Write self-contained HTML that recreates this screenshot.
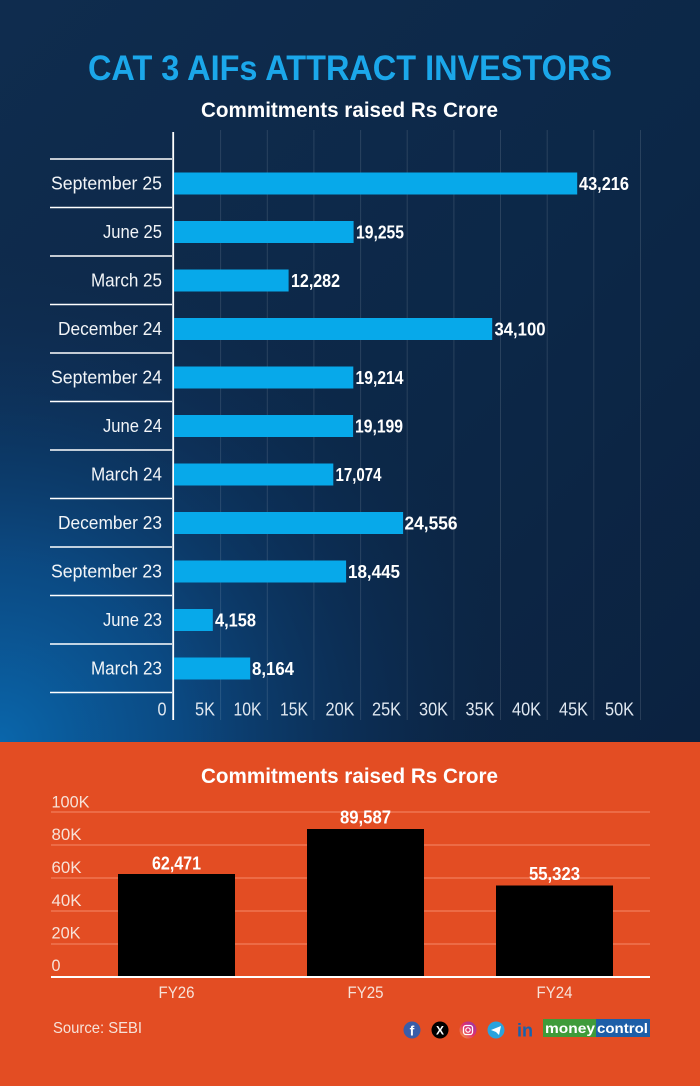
<!DOCTYPE html>
<html>
<head>
<meta charset="utf-8">
<style>
html,body{margin:0;padding:0;background:#0d2846;}
svg{display:block;}
text{font-family:"Liberation Sans","DejaVu Sans",sans-serif;}
</style>
</head>
<body>
<svg width="700" height="1086" viewBox="0 0 700 1086" xmlns="http://www.w3.org/2000/svg">
<defs>
  <radialGradient id="glow" cx="0" cy="742" r="520" gradientUnits="userSpaceOnUse">
    <stop offset="0" stop-color="#0a66ab" stop-opacity="1"/>
    <stop offset="0.35" stop-color="#0b4f8c" stop-opacity="0.85"/>
    <stop offset="0.75" stop-color="#0d3563" stop-opacity="0.35"/>
    <stop offset="1" stop-color="#0d2846" stop-opacity="0"/>
  </radialGradient>
  <linearGradient id="base" x1="0" y1="0" x2="1" y2="1">
    <stop offset="0" stop-color="#0f2c4e"/>
    <stop offset="0.6" stop-color="#0c2747"/>
    <stop offset="1" stop-color="#0b2240"/>
  </linearGradient>
  <linearGradient id="ig" x1="0" y1="1" x2="1" y2="0">
    <stop offset="0" stop-color="#f7a23a"/>
    <stop offset="0.5" stop-color="#e1306c"/>
    <stop offset="1" stop-color="#8a3ab9"/>
  </linearGradient>
</defs>

<!-- top section background -->
<rect x="0" y="0" width="700" height="742" fill="url(#base)"/>
<rect x="0" y="0" width="700" height="742" fill="url(#glow)"/>

<!-- title -->
<text x="350" y="80" text-anchor="middle" font-size="35" font-weight="bold" fill="#1ba7ea" textLength="524" lengthAdjust="spacingAndGlyphs">CAT 3 AIFs ATTRACT INVESTORS</text>
<text x="349.5" y="117" text-anchor="middle" font-size="21" font-weight="bold" fill="#ffffff" textLength="297" lengthAdjust="spacingAndGlyphs">Commitments raised Rs Crore</text>

<!-- gridlines -->
<g stroke="#ffffff" stroke-opacity="0.12" stroke-width="1">
  <line x1="220.6" y1="130" x2="220.6" y2="720"/>
  <line x1="267.3" y1="130" x2="267.3" y2="720"/>
  <line x1="313.9" y1="130" x2="313.9" y2="720"/>
  <line x1="360.6" y1="130" x2="360.6" y2="720"/>
  <line x1="407.2" y1="130" x2="407.2" y2="720"/>
  <line x1="453.9" y1="130" x2="453.9" y2="720"/>
  <line x1="500.5" y1="130" x2="500.5" y2="720"/>
  <line x1="547.2" y1="130" x2="547.2" y2="720"/>
  <line x1="593.8" y1="130" x2="593.8" y2="720"/>
  <line x1="640.5" y1="130" x2="640.5" y2="720"/>
</g>

<!-- separators -->
<g stroke="#ffffff" stroke-width="1.6">
  <line x1="50" y1="159" x2="172" y2="159"/>
  <line x1="50" y1="207.5" x2="172" y2="207.5"/>
  <line x1="50" y1="256" x2="172" y2="256"/>
  <line x1="50" y1="304.5" x2="172" y2="304.5"/>
  <line x1="50" y1="353" x2="172" y2="353"/>
  <line x1="50" y1="401.5" x2="172" y2="401.5"/>
  <line x1="50" y1="450" x2="172" y2="450"/>
  <line x1="50" y1="498.5" x2="172" y2="498.5"/>
  <line x1="50" y1="547" x2="172" y2="547"/>
  <line x1="50" y1="595.5" x2="172" y2="595.5"/>
  <line x1="50" y1="644" x2="172" y2="644"/>
  <line x1="50" y1="692.5" x2="172" y2="692.5"/>
</g>

<!-- axis line -->
<line x1="173.2" y1="132" x2="173.2" y2="720" stroke="#ffffff" stroke-width="1.8"/>

<!-- bars -->
<g fill="#07a9ea">
  <rect x="174" y="172.5" width="403.2" height="22"/>
  <rect x="174" y="221" width="179.6" height="22"/>
  <rect x="174" y="269.5" width="114.6" height="22"/>
  <rect x="174" y="318" width="318.2" height="22"/>
  <rect x="174" y="366.5" width="179.3" height="22"/>
  <rect x="174" y="415" width="179.1" height="22"/>
  <rect x="174" y="463.5" width="159.3" height="22"/>
  <rect x="174" y="512" width="229.1" height="22"/>
  <rect x="174" y="560.5" width="172.1" height="22"/>
  <rect x="174" y="609" width="38.8" height="22"/>
  <rect x="174" y="657.5" width="76.2" height="22"/>
</g>

<!-- category labels -->
<g font-size="18" fill="#f2f5f8" text-anchor="end">
  <text x="162" y="189.5" textLength="111" lengthAdjust="spacingAndGlyphs">September 25</text>
  <text x="162" y="238" textLength="59" lengthAdjust="spacingAndGlyphs">June 25</text>
  <text x="162" y="286.5" textLength="71" lengthAdjust="spacingAndGlyphs">March 25</text>
  <text x="162" y="335" textLength="104" lengthAdjust="spacingAndGlyphs">December 24</text>
  <text x="162" y="383.5" textLength="111" lengthAdjust="spacingAndGlyphs">September 24</text>
  <text x="162" y="432" textLength="59" lengthAdjust="spacingAndGlyphs">June 24</text>
  <text x="162" y="480.5" textLength="71" lengthAdjust="spacingAndGlyphs">March 24</text>
  <text x="162" y="529" textLength="104" lengthAdjust="spacingAndGlyphs">December 23</text>
  <text x="162" y="577.5" textLength="111" lengthAdjust="spacingAndGlyphs">September 23</text>
  <text x="162" y="626" textLength="59" lengthAdjust="spacingAndGlyphs">June 23</text>
  <text x="162" y="674.5" textLength="71" lengthAdjust="spacingAndGlyphs">March 23</text>
</g>

<!-- value labels -->
<g font-size="18" font-weight="bold" fill="#ffffff">
  <text x="579" y="190" textLength="50" lengthAdjust="spacingAndGlyphs">43,216</text>
  <text x="356" y="238.5" textLength="48" lengthAdjust="spacingAndGlyphs">19,255</text>
  <text x="291" y="287" textLength="49" lengthAdjust="spacingAndGlyphs">12,282</text>
  <text x="494.5" y="335.5" textLength="51" lengthAdjust="spacingAndGlyphs">34,100</text>
  <text x="355.5" y="384" textLength="48" lengthAdjust="spacingAndGlyphs">19,214</text>
  <text x="355" y="432.5" textLength="48" lengthAdjust="spacingAndGlyphs">19,199</text>
  <text x="335.5" y="481" textLength="46" lengthAdjust="spacingAndGlyphs">17,074</text>
  <text x="404.5" y="529.5" textLength="53" lengthAdjust="spacingAndGlyphs">24,556</text>
  <text x="348" y="578" textLength="52" lengthAdjust="spacingAndGlyphs">18,445</text>
  <text x="215" y="626.5" textLength="41" lengthAdjust="spacingAndGlyphs">4,158</text>
  <text x="252" y="675" textLength="42" lengthAdjust="spacingAndGlyphs">8,164</text>
</g>

<!-- x tick labels -->
<g font-size="18" fill="#dfe7f0" text-anchor="end">
  <text x="166.5" y="715.5" textLength="9" lengthAdjust="spacingAndGlyphs">0</text>
  <text x="215" y="715.5" textLength="20" lengthAdjust="spacingAndGlyphs">5K</text>
  <text x="261.5" y="715.5" textLength="28" lengthAdjust="spacingAndGlyphs">10K</text>
  <text x="308" y="715.5" textLength="28" lengthAdjust="spacingAndGlyphs">15K</text>
  <text x="354.5" y="715.5" textLength="29" lengthAdjust="spacingAndGlyphs">20K</text>
  <text x="401" y="715.5" textLength="29" lengthAdjust="spacingAndGlyphs">25K</text>
  <text x="448" y="715.5" textLength="29" lengthAdjust="spacingAndGlyphs">30K</text>
  <text x="494.5" y="715.5" textLength="29" lengthAdjust="spacingAndGlyphs">35K</text>
  <text x="541" y="715.5" textLength="29" lengthAdjust="spacingAndGlyphs">40K</text>
  <text x="588" y="715.5" textLength="29" lengthAdjust="spacingAndGlyphs">45K</text>
  <text x="634" y="715.5" textLength="29" lengthAdjust="spacingAndGlyphs">50K</text>
</g>

<!-- bottom orange section -->
<rect x="0" y="742" width="700" height="344" fill="#e34d23"/>

<text x="349.5" y="783" text-anchor="middle" font-size="21" font-weight="bold" fill="#ffffff" textLength="297" lengthAdjust="spacingAndGlyphs">Commitments raised Rs Crore</text>

<!-- gridlines -->
<g stroke="#f6896a" stroke-width="1">
  <line x1="51" y1="812" x2="650" y2="812"/>
  <line x1="51" y1="845" x2="650" y2="845"/>
  <line x1="51" y1="878" x2="650" y2="878"/>
  <line x1="51" y1="911" x2="650" y2="911"/>
  <line x1="51" y1="944" x2="650" y2="944"/>
</g>

<!-- y labels -->
<g font-size="17" fill="#f7e2d8">
  <text x="51.5" y="807.5" textLength="38" lengthAdjust="spacingAndGlyphs">100K</text>
  <text x="51.5" y="840" textLength="30" lengthAdjust="spacingAndGlyphs">80K</text>
  <text x="51.5" y="873" textLength="30" lengthAdjust="spacingAndGlyphs">60K</text>
  <text x="51.5" y="906" textLength="30" lengthAdjust="spacingAndGlyphs">40K</text>
  <text x="51.5" y="938.5" textLength="29" lengthAdjust="spacingAndGlyphs">20K</text>
  <text x="51.5" y="971" textLength="9" lengthAdjust="spacingAndGlyphs">0</text>
</g>

<!-- bars -->
<g fill="#000000">
  <rect x="118" y="874" width="117" height="103"/>
  <rect x="307" y="829" width="117" height="148"/>
  <rect x="496" y="885.5" width="117" height="91.5"/>
</g>
<line x1="51" y1="977" x2="650" y2="977" stroke="#ffffff" stroke-width="2"/>

<!-- value labels -->
<g font-size="18" font-weight="bold" fill="#ffffff" text-anchor="middle">
  <text x="176.5" y="869.5" textLength="49" lengthAdjust="spacingAndGlyphs">62,471</text>
  <text x="365.5" y="823.5" textLength="51" lengthAdjust="spacingAndGlyphs">89,587</text>
  <text x="554.5" y="880" textLength="51" lengthAdjust="spacingAndGlyphs">55,323</text>
</g>

<!-- x labels -->
<g font-size="17" fill="#f7e2d8" text-anchor="middle">
  <text x="176.5" y="998" textLength="36" lengthAdjust="spacingAndGlyphs">FY26</text>
  <text x="365.5" y="998" textLength="36" lengthAdjust="spacingAndGlyphs">FY25</text>
  <text x="554.5" y="998" textLength="36" lengthAdjust="spacingAndGlyphs">FY24</text>
</g>

<!-- source -->
<text x="53" y="1033" font-size="16" fill="#f7e2d8" textLength="89" lengthAdjust="spacingAndGlyphs">Source: SEBI</text>

<!-- social icons -->
<circle cx="412" cy="1030" r="8.5" fill="#3b5da8"/>
<text x="412" y="1035.5" text-anchor="middle" font-size="14" font-weight="bold" fill="#ffffff">f</text>
<circle cx="440" cy="1030" r="8.5" fill="#000000"/>
<text x="440" y="1034.5" text-anchor="middle" font-size="12" font-weight="bold" fill="#ffffff">X</text>
<circle cx="468" cy="1030" r="8.5" fill="url(#ig)"/>
<rect x="463.5" y="1025.5" width="9" height="9" rx="2.5" fill="none" stroke="#ffffff" stroke-width="1.3"/>
<circle cx="468" cy="1030" r="2.2" fill="none" stroke="#ffffff" stroke-width="1.2"/>
<circle cx="496" cy="1030" r="8.5" fill="#2aa3dd"/>
<path d="M491 1030 L501 1026 L499 1035 L496 1032 Z" fill="#ffffff"/>
<text x="525" y="1036.5" text-anchor="middle" font-size="18" font-weight="bold" fill="#1462b0">in</text>
<!-- moneycontrol logo -->
<rect x="543" y="1019" width="53" height="18" fill="#3f9b3a"/>
<rect x="596" y="1019" width="54" height="18" fill="#1d5fa8"/>
<text x="545" y="1033" font-size="14" font-weight="bold" fill="#ffffff" textLength="50" lengthAdjust="spacingAndGlyphs">money</text>
<text x="597" y="1033" font-size="14" font-weight="bold" fill="#ffffff" textLength="51" lengthAdjust="spacingAndGlyphs">control</text>
</svg>
</body>
</html>
